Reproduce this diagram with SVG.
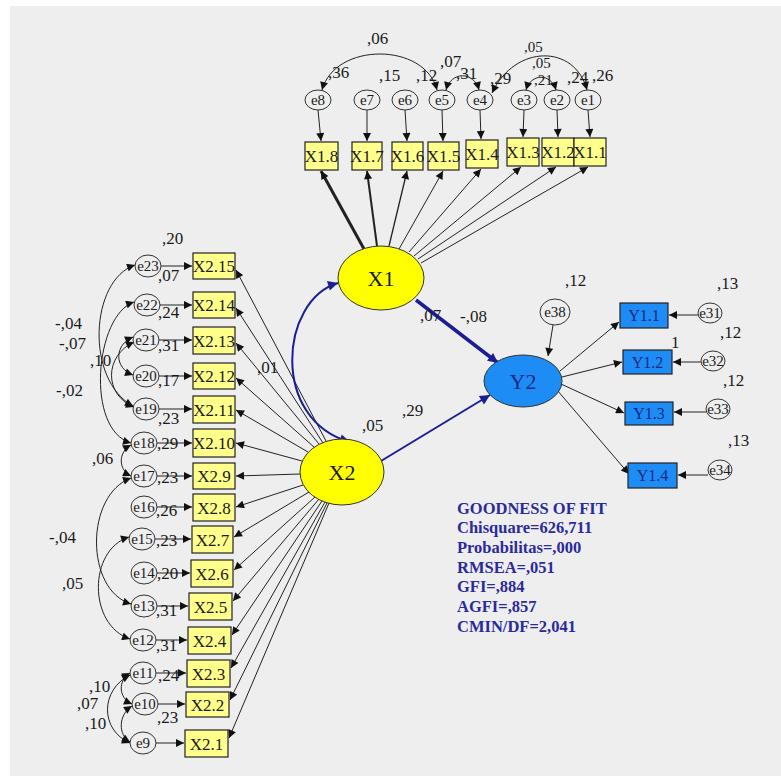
<svg xmlns="http://www.w3.org/2000/svg" width="781" height="776" viewBox="0 0 781 776">
<style>
text{font-family:"Liberation Serif","Times New Roman",serif;fill:#1a1a1a}
.lbl{font-size:17px}
.sm{font-size:15px}
.bx{fill:#ffff8c;stroke:#222;stroke-width:1.2}
.bxt{font-size:17px;text-anchor:middle}
.yb{fill:#1e8cf5;stroke:#222;stroke-width:1.2}
.ybt{font-size:16px;text-anchor:middle;fill:#1a2a80}
.er{fill:none;stroke:#333;stroke-width:1}
.ert{font-size:15px;text-anchor:middle}
.lat{fill:#ffff00;stroke:#333;stroke-width:1}
.latt{font-size:22px;text-anchor:middle}
.ln{fill:none;stroke:#222;stroke-width:1;marker-end:url(#ah)}
.cv{fill:none;stroke:#222;stroke-width:1;marker-start:url(#ah);marker-end:url(#ah)}
.bl{fill:none;stroke:#1c1c96;marker-end:url(#bh)}
.gof{font-size:16.5px;font-weight:bold;fill:#2a2a9c}
</style>
<defs>
<marker id="ah" viewBox="0 0 10 10" refX="10" refY="5" markerWidth="10" markerHeight="8" markerUnits="userSpaceOnUse" orient="auto-start-reverse"><path d="M0,0 L10,5 L0,10 z" fill="#111"/></marker>
<marker id="bh" viewBox="0 0 10 10" refX="10" refY="5" markerWidth="12" markerHeight="10" markerUnits="userSpaceOnUse" orient="auto-start-reverse"><path d="M0,0 L10,5 L0,10 z" fill="#1c1c96"/></marker>
</defs>
<rect x="0" y="0" width="781" height="776" fill="#ffffff"/>
<rect x="10" y="6" width="771" height="770" fill="#eeeeee"/>

<g id="connectors">
<!-- X1 loadings -->
<line class="ln" x1="364" y1="249" x2="321" y2="171" style="stroke-width:3"/>
<line class="ln" x1="377" y1="246" x2="367" y2="171" style="stroke-width:2"/>
<line class="ln" x1="389" y1="246" x2="407" y2="171" style="stroke-width:1.3"/>
<line class="ln" x1="399" y1="249" x2="443" y2="171"/>
<line class="ln" x1="409" y1="252" x2="481" y2="169"/>
<line class="ln" x1="414" y1="256" x2="521" y2="167"/>
<line class="ln" x1="418" y1="259" x2="556" y2="167"/>
<line class="ln" x1="421" y1="263" x2="588" y2="167"/>
<!-- e -> X1 boxes -->
<line class="ln" x1="318" y1="110" x2="321" y2="141"/>
<line class="ln" x1="367" y1="110" x2="367" y2="141"/>
<line class="ln" x1="405" y1="110" x2="407" y2="141"/>
<line class="ln" x1="442" y1="110" x2="443" y2="141"/>
<line class="ln" x1="480" y1="110" x2="481" y2="139"/>
<line class="ln" x1="524" y1="110" x2="523" y2="137"/>
<line class="ln" x1="557" y1="110" x2="558" y2="137"/>
<line class="ln" x1="588" y1="110" x2="590" y2="137"/>
<!-- top covariances -->
<path class="cv" d="M437,90 C425,42 335,42 322,90"/>
<path class="cv" d="M446,90 C451,71 474,71 479,90"/>
<path class="cv" d="M492,93 C515,44 575,44 587,90"/>
<path class="cv" d="M526,90 C531,73 551,73 556,90"/>
<!-- X2 loadings -->
<line class="ln" x1="326" y1="441" x2="236" y2="270"/>
<line class="ln" x1="323" y1="443" x2="236" y2="308"/>
<line class="ln" x1="319" y1="444" x2="236" y2="343"/>
<line class="ln" x1="314" y1="447" x2="236" y2="378"/>
<line class="ln" x1="308" y1="452" x2="236" y2="410"/>
<line class="ln" x1="302" y1="461" x2="236" y2="443"/>
<line class="ln" x1="300" y1="474" x2="236" y2="476"/>
<line class="ln" x1="303" y1="485" x2="236" y2="507"/>
<line class="ln" x1="309" y1="492" x2="234" y2="537"/>
<line class="ln" x1="315" y1="497" x2="234" y2="570"/>
<line class="ln" x1="319" y1="499" x2="233" y2="601"/>
<line class="ln" x1="322" y1="501" x2="232" y2="635"/>
<line class="ln" x1="325" y1="502" x2="231" y2="668"/>
<line class="ln" x1="327" y1="503" x2="230" y2="700"/>
<line class="ln" x1="329" y1="503" x2="229" y2="738"/>
<!-- e -> X2 boxes -->
<line class="ln" x1="161" y1="266" x2="192" y2="266"/>
<line class="ln" x1="160" y1="305" x2="192" y2="305"/>
<line class="ln" x1="159" y1="340" x2="192" y2="340"/>
<line class="ln" x1="159" y1="376" x2="192" y2="376"/>
<line class="ln" x1="159" y1="409" x2="192" y2="409"/>
<line class="ln" x1="157" y1="443" x2="192" y2="443"/>
<line class="ln" x1="157" y1="476" x2="192" y2="476"/>
<line class="ln" x1="157" y1="507" x2="192" y2="507"/>
<line class="ln" x1="155" y1="539" x2="191" y2="539"/>
<line class="ln" x1="157" y1="573" x2="190" y2="573"/>
<line class="ln" x1="157" y1="606" x2="188" y2="606"/>
<line class="ln" x1="156" y1="640" x2="187" y2="640"/>
<line class="ln" x1="156" y1="673" x2="186" y2="673"/>
<line class="ln" x1="158" y1="704" x2="185" y2="704"/>
<line class="ln" x1="156" y1="743" x2="184" y2="743"/>
<!-- left covariances -->
<path class="cv" d="M135,265 C90,280 85,380 133,406"/>
<path class="cv" d="M134,302 C95,315 85,430 131,443"/>
<path class="cv" d="M133,337 C114,345 114,368 133,375"/>
<path class="cv" d="M134,342 C104,356 104,395 134,407"/>
<path class="cv" d="M131,445 C118,452 118,470 131,476"/>
<path class="cv" d="M131,478 C85,495 85,590 131,604"/>
<path class="cv" d="M129,537 C88,550 88,625 130,639"/>
<path class="cv" d="M130,673 C118,680 118,698 132,704"/>
<path class="cv" d="M130,675 C100,690 100,730 130,743"/>
<path class="cv" d="M132,706 C118,715 118,735 130,742"/>
<!-- structural -->
<path class="bl" d="M338,283 C280,300 270,420 350,442" style="stroke-width:2;marker-start:url(#bh)"/>
<line class="bl" x1="416" y1="300" x2="498" y2="363" style="stroke-width:3.5"/>
<line class="bl" x1="381" y1="461" x2="490" y2="395" style="stroke-width:2"/>
<!-- Y side -->
<line class="ln" x1="553" y1="325" x2="548" y2="356"/>
<line class="ln" x1="560" y1="371" x2="619" y2="322"/>
<line class="ln" x1="562" y1="377" x2="622" y2="362"/>
<line class="ln" x1="561" y1="384" x2="624" y2="413"/>
<line class="ln" x1="557" y1="390" x2="629" y2="474"/>
<line class="ln" x1="698" y1="315" x2="669" y2="315"/>
<line class="ln" x1="701" y1="362" x2="673" y2="362"/>
<line class="ln" x1="706" y1="412" x2="674" y2="412"/>
<line class="ln" x1="708" y1="475" x2="678" y2="475"/>
</g>

<!-- X1 indicators -->
<g id="X1_8"><rect class="bx" x="305" y="142" width="33" height="28"/><text class="bxt" x="321.5" y="162">X1.8</text></g>
<g id="X1_7"><rect class="bx" x="352" y="142" width="30" height="28"/><text class="bxt" x="367" y="162">X1.7</text></g>
<g id="X1_6"><rect class="bx" x="392" y="142" width="31" height="28"/><text class="bxt" x="407.5" y="162">X1.6</text></g>
<g id="X1_5"><rect class="bx" x="428" y="142" width="31" height="28"/><text class="bxt" x="443.5" y="162">X1.5</text></g>
<g id="X1_4"><rect class="bx" x="466" y="140" width="32" height="28"/><text class="bxt" x="482" y="160">X1.4</text></g>
<g id="X1_3"><rect class="bx" x="507" y="138" width="32" height="28"/><text class="bxt" x="523" y="158">X1.3</text></g>
<g id="X1_2"><rect class="bx" x="542" y="138" width="32" height="28"/><text class="bxt" x="558" y="158">X1.2</text></g>
<g id="X1_1"><rect class="bx" x="574" y="138" width="32" height="28"/><text class="bxt" x="590" y="158">X1.1</text></g>

<!-- top errors -->
<g id="e8"><ellipse class="er" cx="318" cy="100" rx="13" ry="10"/><text class="ert" x="318" y="105">e8</text></g>
<g id="e7"><ellipse class="er" cx="367" cy="100" rx="13" ry="10"/><text class="ert" x="367" y="105">e7</text></g>
<g id="e6"><ellipse class="er" cx="405" cy="100" rx="13" ry="10"/><text class="ert" x="405" y="105">e6</text></g>
<g id="e5"><ellipse class="er" cx="442" cy="100" rx="13" ry="10"/><text class="ert" x="442" y="105">e5</text></g>
<g id="e4"><ellipse class="er" cx="480" cy="100" rx="13" ry="10"/><text class="ert" x="480" y="105">e4</text></g>
<g id="e3"><ellipse class="er" cx="524" cy="100" rx="13" ry="10"/><text class="ert" x="524" y="105">e3</text></g>
<g id="e2"><ellipse class="er" cx="557" cy="100" rx="13" ry="10"/><text class="ert" x="557" y="105">e2</text></g>
<g id="e1"><ellipse class="er" cx="588" cy="100" rx="13" ry="10"/><text class="ert" x="588" y="105">e1</text></g>

<!-- X2 indicators -->
<g id="X2_15"><rect class="bx" x="193" y="253" width="42" height="26"/><text class="bxt" x="214" y="272">X2.15</text></g>
<g id="X2_14"><rect class="bx" x="193" y="292" width="42" height="26"/><text class="bxt" x="214" y="311">X2.14</text></g>
<g id="X2_13"><rect class="bx" x="193" y="327" width="42" height="27"/><text class="bxt" x="214" y="346.5">X2.13</text></g>
<g id="X2_12"><rect class="bx" x="193" y="363" width="42" height="26"/><text class="bxt" x="214" y="382">X2.12</text></g>
<g id="X2_11"><rect class="bx" x="193" y="396" width="42" height="27"/><text class="bxt" x="214" y="415.5">X2.11</text></g>
<g id="X2_10"><rect class="bx" x="193" y="429" width="42" height="28"/><text class="bxt" x="214" y="449">X2.10</text></g>
<g id="X2_9"><rect class="bx" x="193" y="463" width="42" height="26"/><text class="bxt" x="214" y="482">X2.9</text></g>
<g id="X2_8"><rect class="bx" x="193" y="494" width="42" height="27"/><text class="bxt" x="214" y="513.5">X2.8</text></g>
<g id="X2_7"><rect class="bx" x="192" y="526" width="41" height="27"/><text class="bxt" x="212.5" y="545.5">X2.7</text></g>
<g id="X2_6"><rect class="bx" x="191" y="560" width="42" height="27"/><text class="bxt" x="212" y="579.5">X2.6</text></g>
<g id="X2_5"><rect class="bx" x="189" y="593" width="43" height="27"/><text class="bxt" x="210.5" y="612.5">X2.5</text></g>
<g id="X2_4"><rect class="bx" x="188" y="627" width="43" height="27"/><text class="bxt" x="209.5" y="646.5">X2.4</text></g>
<g id="X2_3"><rect class="bx" x="187" y="660" width="43" height="27"/><text class="bxt" x="208.5" y="679.5">X2.3</text></g>
<g id="X2_2"><rect class="bx" x="186" y="692" width="43" height="25"/><text class="bxt" x="207.5" y="710.5">X2.2</text></g>
<g id="X2_1"><rect class="bx" x="185" y="730" width="43" height="27"/><text class="bxt" x="206.5" y="749.5">X2.1</text></g>

<!-- left errors -->
<g id="e23"><ellipse class="er" cx="148" cy="266" rx="13" ry="11"/><text class="ert" x="148" y="271">e23</text></g>
<g id="e22"><ellipse class="er" cx="147" cy="305" rx="13" ry="11"/><text class="ert" x="147" y="310">e22</text></g>
<g id="e21"><ellipse class="er" cx="146" cy="340" rx="13" ry="11"/><text class="ert" x="146" y="345">e21</text></g>
<g id="e20"><ellipse class="er" cx="146" cy="376" rx="13" ry="11"/><text class="ert" x="146" y="381">e20</text></g>
<g id="e19"><ellipse class="er" cx="146" cy="409" rx="13" ry="11"/><text class="ert" x="146" y="414">e19</text></g>
<g id="e18"><ellipse class="er" cx="144" cy="443" rx="13" ry="11"/><text class="ert" x="144" y="448">e18</text></g>
<g id="e17"><ellipse class="er" cx="144" cy="476" rx="13" ry="11"/><text class="ert" x="144" y="481">e17</text></g>
<g id="e16"><ellipse class="er" cx="144" cy="507" rx="13" ry="11"/><text class="ert" x="144" y="512">e16</text></g>
<g id="e15"><ellipse class="er" cx="142" cy="539" rx="13" ry="11"/><text class="ert" x="142" y="544">e15</text></g>
<g id="e14"><ellipse class="er" cx="144" cy="573" rx="13" ry="11"/><text class="ert" x="144" y="578">e14</text></g>
<g id="e13"><ellipse class="er" cx="144" cy="606" rx="13" ry="11"/><text class="ert" x="144" y="611">e13</text></g>
<g id="e12"><ellipse class="er" cx="143" cy="640" rx="13" ry="11"/><text class="ert" x="143" y="645">e12</text></g>
<g id="e11"><ellipse class="er" cx="143" cy="673" rx="13" ry="11"/><text class="ert" x="143" y="678">e11</text></g>
<g id="e10"><ellipse class="er" cx="145" cy="704" rx="13" ry="11"/><text class="ert" x="145" y="709">e10</text></g>
<g id="e9"><ellipse class="er" cx="143" cy="743" rx="13" ry="11"/><text class="ert" x="143" y="748">e9</text></g>

<!-- latent variables -->
<g id="X1"><ellipse class="lat" cx="381" cy="278" rx="43" ry="32"/><text class="latt" x="381" y="286">X1</text></g>
<g id="X2"><ellipse class="lat" cx="342" cy="472" rx="42" ry="33"/><text class="latt" x="342" y="480">X2</text></g>
<g id="Y2"><ellipse cx="523" cy="381" rx="39" ry="26" fill="#1e8cf5" stroke="#333"/><text class="latt" x="523" y="389" style="fill:#1a2a80">Y2</text></g>
<g id="e38"><ellipse class="er" cx="555" cy="312" rx="15" ry="13"/><text class="ert" x="555" y="317">e38</text></g>

<!-- Y indicators -->
<g id="Y1_1"><rect class="yb" x="620" y="303" width="48" height="25"/><text class="ybt" x="644" y="321">Y1.1</text></g>
<g id="Y1_2"><rect class="yb" x="623" y="350" width="49" height="24"/><text class="ybt" x="647.5" y="368">Y1.2</text></g>
<g id="Y1_3"><rect class="yb" x="625" y="402" width="48" height="23"/><text class="ybt" x="649" y="419">Y1.3</text></g>
<g id="Y1_4"><rect class="yb" x="628" y="463" width="49" height="25"/><text class="ybt" x="652.5" y="481">Y1.4</text></g>
<g id="e31"><ellipse class="er" cx="710" cy="313" rx="12" ry="10"/><text class="ert" x="710" y="318">e31</text></g>
<g id="e32"><ellipse class="er" cx="713" cy="361" rx="12" ry="10"/><text class="ert" x="713" y="366">e32</text></g>
<g id="e33"><ellipse class="er" cx="718" cy="409" rx="12" ry="10"/><text class="ert" x="718" y="414">e33</text></g>
<g id="e34"><ellipse class="er" cx="720" cy="470" rx="12" ry="10"/><text class="ert" x="720" y="475">e34</text></g>

<!-- estimate labels -->
<g id="labels">
<text class="lbl" x="367" y="44">,06</text>
<text class="lbl" x="328" y="78">,36</text>
<text class="lbl" x="379" y="81">,15</text>
<text class="lbl" x="416" y="81">,12</text>
<text class="lbl" x="440" y="67">,07</text>
<text class="lbl" x="456" y="79">,31</text>
<text class="lbl" x="490" y="84">,29</text>
<text class="lbl sm" x="524" y="52">,05</text>
<text class="lbl sm" x="532" y="68">,05</text>
<text class="lbl sm" x="534" y="85">,21</text>
<text class="lbl" x="567" y="83">,24</text>
<text class="lbl" x="592" y="81">,26</text>

<text class="lbl" x="162" y="244">,20</text>
<text class="lbl" x="158" y="281">,07</text>
<text class="lbl" x="158" y="318">,24</text>
<text class="lbl" x="158" y="351">,31</text>
<text class="lbl" x="158" y="386">,17</text>
<text class="lbl" x="158" y="424">,23</text>
<text class="lbl" x="157" y="449">,29</text>
<text class="lbl" x="157" y="483">,23</text>
<text class="lbl" x="156" y="516">,26</text>
<text class="lbl" x="156" y="546">,23</text>
<text class="lbl" x="157" y="579">,20</text>
<text class="lbl" x="156" y="616">,31</text>
<text class="lbl" x="156" y="651">,31</text>
<text class="lbl" x="158" y="681">,24</text>
<text class="lbl" x="157" y="723">,23</text>

<text class="lbl" x="55" y="329">-,04</text>
<text class="lbl" x="59" y="349">-,07</text>
<text class="lbl" x="90" y="366">,10</text>
<text class="lbl" x="56" y="396">-,02</text>
<text class="lbl" x="92" y="464">,06</text>
<text class="lbl" x="49" y="543">-,04</text>
<text class="lbl" x="62" y="589">,05</text>
<text class="lbl" x="89" y="692">,10</text>
<text class="lbl" x="77" y="709">,07</text>
<text class="lbl" x="85" y="729">,10</text>

<text class="lbl" x="257" y="373">,01</text>
<text class="lbl" x="420" y="321">,07</text>
<text class="lbl" x="460" y="322">-,08</text>
<text class="lbl" x="402" y="416">,29</text>
<text class="lbl" x="362" y="431">,05</text>
<text class="lbl" x="565" y="286">,12</text>
<text class="lbl" x="717" y="289">,13</text>
<text class="lbl" x="720" y="338">,12</text>
<text class="lbl" x="671" y="348">1</text>
<text class="lbl" x="723" y="386">,12</text>
<text class="lbl" x="728" y="446">,13</text>
</g>

<g id="fit">
<text class="gof" x="457" y="514">GOODNESS OF FIT</text>
<text class="gof" x="457" y="533">Chisquare=626,711</text>
<text class="gof" x="457" y="553">Probabilitas=,000</text>
<text class="gof" x="457" y="573">RMSEA=,051</text>
<text class="gof" x="457" y="592">GFI=,884</text>
<text class="gof" x="457" y="612">AGFI=,857</text>
<text class="gof" x="457" y="632">CMIN/DF=2,041</text>
</g>
</svg>
